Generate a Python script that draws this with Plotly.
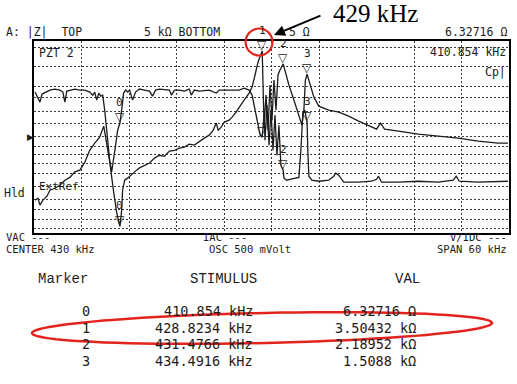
import numpy as np
import plotly.graph_objects as go

# ---------------- data (frequency in kHz, impedance in ohm) ----------------
A_freq = [400.13, 400.50, 400.75, 401.13, 401.64, 402.01, 402.64, 403.27, 403.90, 404.53,
          405.16, 405.79, 406.42, 407.04, 407.67, 408.30, 408.81, 409.56, 410.06, 410.44,
          410.854, 411.07, 411.19, 411.45, 411.82, 412.08, 412.45, 412.96, 413.33, 413.96,
          414.59, 415.22, 415.85, 416.48, 417.11, 417.74, 418.36, 418.99, 419.62, 420.25,
          420.88, 421.51, 422.14, 422.64, 423.02, 423.27, 423.65, 424.03, 424.65, 425.03,
          425.53, 425.91, 426.54, 427.17, 427.55, 427.92, 428.30, 428.8234, 428.93, 429.06,
          429.31, 429.56, 429.81, 430.06, 430.31, 430.57, 430.82, 431.07, 431.4766, 431.82,
          432.20, 432.83, 433.46, 433.84, 434.09, 434.28, 434.4916, 434.72, 435.35, 435.97,
          437.23, 438.49, 439.75, 441.01, 442.26, 443.27, 443.77, 444.28, 446.04, 448.55,
          451.07, 453.58, 456.10, 458.62, 459.87]
A_Z = [16.3, 17.5, 13.6, 16.3, 18.8, 23.3, 25, 27.9, 33.4, 37,
       45, 48, 64, 98, 127, 157, 234, 65, 22, 10.5,
       6.327, 11.3, 23.3, 33.4, 36, 38.6, 43, 48, 52, 57,
       62, 74, 82, 79, 95, 98, 106, 110, 122, 118,
       136, 152, 169, 202, 261, 202, 225, 270, 290, 323,
       387, 463, 597, 768, 953, 1472, 2345, 3504, 855, 242,
       714, 202, 1027, 290, 1229, 416, 1472, 1762, 2190, 1472,
       1027, 597, 347, 242, 416, 1229, 1509, 1229, 665, 480,
       416, 387, 335, 280, 242, 210, 261, 210, 195, 175,
       163, 152, 136, 127, 127]

B_freq = [400.13, 400.50, 400.75, 401.01, 402.01, 402.64, 403.27, 403.65, 403.90, 404.15,
          405.16, 405.79, 406.42, 407.04, 407.42, 407.67, 407.92, 408.18, 408.43, 408.68,
          408.93, 409.31, 409.56, 409.81, 410.06, 410.31, 410.57, 410.854, 411.07, 411.32,
          411.57, 411.82, 412.08, 412.45, 412.83, 413.33, 413.96, 414.59, 414.97, 415.35,
          415.85, 417.11, 417.36, 417.74, 418.36, 418.99, 419.62, 419.87, 420.25, 420.88,
          422.14, 423.02, 423.40, 424.65, 425.91, 426.54, 427.17, 427.55, 427.92, 428.30,
          428.56, 428.8234, 429.06, 429.18, 429.43, 429.69, 429.94, 430.19, 430.44, 430.69,
          430.94, 431.19, 431.4766, 431.57, 431.95, 432.45, 432.96, 433.46, 433.71, 433.96,
          434.21, 434.4916, 434.59, 434.72, 435.09, 435.97, 437.23, 437.86, 438.11, 438.49,
          439.12, 441.01, 442.64, 443.27, 443.52, 443.90, 446.04, 448.55, 451.07, 452.96,
          453.33, 453.71, 456.10, 458.62, 459.87]
B_Z = [796, 641, 555, 741, 855, 887, 855, 796, 555, 826,
       887, 855, 855, 796, 714, 796, 597, 768, 690, 714,
       416, 141, 69, 45, 69, 118, 202, 261, 416, 768,
       855, 796, 855, 597, 796, 887, 855, 826, 689, 855,
       887, 855, 714, 855, 855, 826, 887, 714, 855, 826,
       855, 768, 855, 855, 855, 919, 855, 714, 416, 270,
       169, 157, 347, 141, 498, 118, 416, 98, 347, 82,
       242, 57, 48, 36, 33.4, 34.6, 36, 37, 98, 373,
       416, 270, 98, 38.6, 33.4, 32.2, 33.4, 38.6, 43, 40,
       31.1, 31.1, 32.2, 34.6, 38.6, 31.1, 31.1, 32.2, 31.1, 33.4,
       38.6, 32.2, 31.1, 32.2, 32.2]

marker_ids = ["0", "1", "2", "3"]
marker_freq = [410.854, 428.8234, 431.4766, 434.4916]
marker_val = [6.32716, 3504.32, 2189.52, 1508.8]
stim_text = ["410.854 kHz", "428.8234 kHz", "431.4766 kHz", "434.4916 kHz"]
val_text = ["6.32716 \u03a9", "3.50432 k\u03a9", "2.18952 k\u03a9", "1.5088 k\u03a9"]

f_center, f_span = 430, 60
z_bottom, z_top = 5, 5000
grid_f = [406, 412, 418, 424, 430, 436, 442, 448, 454]
grid_z = [5.9, 8.2, 11.7, 16.9, 27, 43, 60, 85, 114, 163, 254, 402, 648, 989, 1981, 3928]

# ---------------- layout helpers ----------------
W, H = 517, 384
L, R, T, Bt = 34, 511, 41, 233
MONO = "DejaVu Sans Mono"
INK = "#1c1c1c"


def px(x):
    return (x - L) / (R - L)


def py(y):
    return (Bt - y) / (Bt - T)


ann = []


def txt(x, y, s, size=11.5, xanchor="left", family=MONO, color=INK):
    ann.append(dict(x=px(x), y=py(y), xref="paper", yref="paper", text=s, showarrow=False,
                    xanchor=xanchor, yanchor="middle", borderpad=0,
                    font=dict(family=family, size=size, color=color)))


fig = go.Figure()
fig.add_trace(go.Scatter(x=A_freq, y=A_Z, mode="lines", line=dict(color=INK, width=1.3),
                         hoverinfo="skip"))
fig.add_trace(go.Scatter(x=B_freq, y=B_Z, mode="lines", line=dict(color=INK, width=1.3),
                         hoverinfo="skip"))

# marker triangles on both traces
B_at_markers = 10 ** np.interp(marker_freq, B_freq, np.log10(B_Z))
for i, (f, za, zb) in enumerate(zip(marker_freq, marker_val, B_at_markers)):
    for z, lab in ((za, True), (zb, i != 1)):
        ann.append(dict(x=f, y=np.log10(z), xref="x", yref="y", text="\u25bd", showarrow=False,
                        xanchor="center", yanchor="bottom", yshift=-3,
                        font=dict(family="DejaVu Sans", size=12, color=INK)))
        if lab:
            ann.append(dict(x=f, y=np.log10(z), xref="x", yref="y", text=marker_ids[i],
                            showarrow=False, xanchor="center", yanchor="bottom", yshift=12,
                            font=dict(family=MONO, size=11, color=INK)))

# header texts
txt(5, 32, "A: |Z|  TOP")
txt(143, 32, "5 k\u03a9 BOTTOM")
txt(289, 32, "5 \u03a9")
txt(510, 32, "6.32716 \u03a9", xanchor="right")
# inside plot
txt(38, 53, "PZT 2")
txt(509, 52, "410.854 kHz", xanchor="right")
txt(509, 72, "Cp|", xanchor="right")
txt(38, 186, "ExtRef", size=11)
txt(3, 193, "Hld")
txt(30, 137, "\u25b6", size=9, xanchor="center", family="DejaVu Sans")
# under plot
txt(5, 236.5, "VAC ---", size=10.5)
txt(5, 248.5, "CENTER %d kHz" % f_center, size=10.5)
txt(203, 236.5, "IAC ---", size=10.5)
txt(209, 248.5, "OSC 500 mVolt", size=10.5)
txt(510, 236.5, "V/IDC ---", size=10.5, xanchor="right")
txt(510, 248.5, "SPAN %d kHz" % f_span, size=10.5, xanchor="right")

# marker table
txt(37, 279, "Marker", size=14, family="Liberation Mono")
txt(190, 279, "STIMULUS", size=14, family="Liberation Mono")
txt(423, 279, "VAL", size=14, family="Liberation Mono", xanchor="right")
rows_y = [311, 327.5, 344, 360.5]
for k, yy in enumerate(rows_y):
    txt(86, yy, marker_ids[k], size=13.5, xanchor="center")
    txt(255, yy, stim_text[k], size=13.5, xanchor="right")
    txt(419, yy, val_text[k], size=13.5, xanchor="right")

# callout
ann.append(dict(x=px(332), y=py(13.5), xref="paper", yref="paper", text="429 kHz",
                showarrow=False, xanchor="left", yanchor="middle",
                font=dict(family="Liberation Serif", size=25, color="black")))
ann.append(dict(x=px(275), y=py(35), xref="paper", yref="paper", text="", showarrow=True,
                ax=48, ay=-20, arrowhead=2, arrowsize=1.1, arrowwidth=2, arrowcolor="black",
                standoff=0))

shapes = [dict(type="circle", xref="paper", yref="paper", x0=px(246.5), x1=px(273.5),
               y0=py(55.5), y1=py(28.5), line=dict(color="#e3231c", width=2.2))]
# tilted ellipse around row 1
t = np.linspace(0, 2 * np.pi, 90)
cx, cy, a, b, th = 263, 328, 231, 15, -0.022
ex = cx + a * np.cos(t) * np.cos(th) - b * np.sin(t) * np.sin(th)
ey = cy + a * np.cos(t) * np.sin(th) + b * np.sin(t) * np.cos(th)
path = "M " + " L ".join("%.5f,%.5f" % (px(u), py(v)) for u, v in zip(ex, ey)) + " Z"
shapes.append(dict(type="path", xref="paper", yref="paper", path=path,
                   line=dict(color="#e3231c", width=2.5)))

axis_common = dict(showticklabels=False, ticks="", showgrid=True, gridcolor="#3a3a3a",
                   griddash="2px,2px", gridwidth=1, showline=True, linecolor="black",
                   linewidth=1.6, mirror=True, zeroline=False)
fig.update_layout(
    width=W, height=H, autosize=False, showlegend=False,
    margin=dict(l=L, r=W - R, t=T, b=H - Bt, pad=0),
    paper_bgcolor="white", plot_bgcolor="white",
    xaxis=dict(range=[f_center - f_span / 2, f_center + f_span / 2], tickvals=grid_f,
               **axis_common),
    yaxis=dict(type="log", range=[np.log10(z_bottom), np.log10(z_top)], tickvals=grid_z,
               **axis_common),
    annotations=ann, shapes=shapes,
)
fig.write_html("out.html", config={"displayModeBar": False},
               post_script="document.body.style.margin='0';document.body.style.overflow='hidden';")
